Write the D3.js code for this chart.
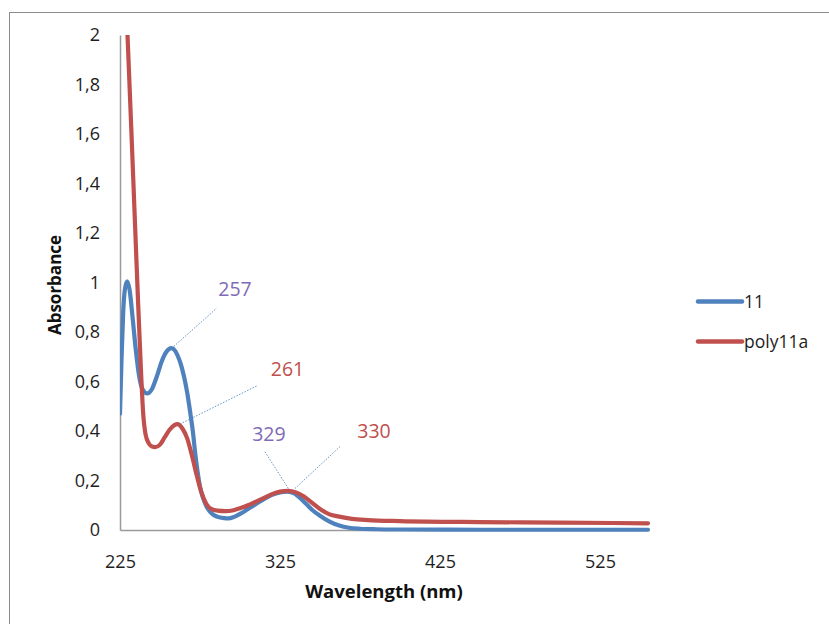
<!DOCTYPE html>
<html>
<head>
<meta charset="utf-8">
<script src="https://cdn.jsdelivr.net/npm/d3@7/dist/d3.min.js"></script>
<style>
  html, body { margin: 0; padding: 0; background: #fff; }
  svg { display: block; font-family: "Open Sans", Lato, sans-serif; }
</style>
</head>
<body>
<svg id="chart" width="829" height="624"></svg>
<script>
// ---- data ----
const seriesNames = ["11", "poly11a"];
const seriesColors = ["#4F81BD", "#C0504D"];

const wl11 = [225, 226, 227, 228, 229.5, 231, 233, 235, 237, 239, 242, 245, 248, 251, 254, 257, 259, 261, 263, 265, 267, 269, 270.5, 272, 273.5, 275, 277, 279, 281, 283, 286, 290, 293, 296, 300, 305, 310, 315, 320, 325, 329, 333, 337.5, 341, 345, 350, 356, 362, 368, 375, 385, 400, 450, 500, 555];
const abs11 = [0.47, 0.70, 0.88, 0.97, 1.005, 0.97, 0.85, 0.72, 0.62, 0.57, 0.552, 0.57, 0.62, 0.68, 0.72, 0.735, 0.728, 0.705, 0.67, 0.62, 0.555, 0.47, 0.40, 0.31, 0.235, 0.175, 0.128, 0.096, 0.076, 0.063, 0.053, 0.048, 0.047, 0.052, 0.065, 0.085, 0.105, 0.125, 0.142, 0.152, 0.155, 0.15, 0.13, 0.108, 0.082, 0.058, 0.034, 0.018, 0.009, 0.005, 0.003, 0.002, 0.001, 0.001, 0.001];

const wlPoly = [225, 228, 230, 232, 234, 236, 238, 239.5, 241, 243, 245, 247, 250, 253, 256, 259, 261, 264, 267, 270, 273, 276, 279, 282, 286, 291, 296, 300, 305, 310, 315, 320, 325, 330, 335, 340, 345, 350, 356, 362, 370, 380, 400, 450, 500, 555];
const absPoly = [2.75, 2.27, 1.95, 1.63, 1.30, 0.97, 0.66, 0.47, 0.385, 0.35, 0.337, 0.335, 0.345, 0.375, 0.405, 0.424, 0.428, 0.41, 0.37, 0.30, 0.22, 0.15, 0.105, 0.085, 0.078, 0.076, 0.08, 0.088, 0.1, 0.115, 0.13, 0.145, 0.155, 0.158, 0.152, 0.135, 0.11, 0.085, 0.063, 0.054, 0.045, 0.04, 0.036, 0.032, 0.03, 0.027];

const xTicks = [225, 325, 425, 525];
const yTicks = [0, 0.2, 0.4, 0.6, 0.8, 1, 1.2, 1.4, 1.6, 1.8, 2];

// peak annotations
const peakLabels = ["257", "261", "329", "330"];
const peakWl = [257.3, 262.5, 330.2, 334.4];
const peakAbs = [0.734, 0.428, 0.168, 0.168];
const labelColors = ["#7F6BB5", "#C0504D", "#7F6BB5", "#C0504D"];
const leaderEndWl = [285.4, 310.4, 315.6, 362.5];
const leaderEndAbs = [0.896, 0.582, 0.316, 0.337];
const labelWl = [296.9, 329.7, 318.1, 383.75];
const labelAbs = [0.945, 0.622, 0.361, 0.372];

// ---- layout ----
const svg = d3.select("#chart");
const plot = { left: 120, right: 648, top: 35, bottom: 530 };

const x = d3.scaleLinear().domain([225, 555]).range([plot.left, plot.right]);
const y = d3.scaleLinear().domain([0, 2]).range([plot.bottom, plot.top]);

// outer frame
svg.append("rect")
  .attr("x", 9.5).attr("y", 12.5)
  .attr("width", 840).attr("height", 640)
  .attr("fill", "none").attr("stroke", "#8c8c8c").attr("stroke-width", 1);

// clip
svg.append("defs").append("clipPath").attr("id", "plotclip")
  .append("rect")
  .attr("x", plot.left).attr("y", plot.top)
  .attr("width", plot.right - plot.left + 4).attr("height", plot.bottom - plot.top + 4);

// axes
const yAxis = d3.axisLeft(y).tickValues(yTicks).tickSize(0).tickPadding(20)
  .tickFormat(d => d3.format("~g")(d).replace(".", ","));
const gy = svg.append("g").attr("transform", `translate(${plot.left},0)`).call(yAxis);
gy.select(".domain").attr("stroke", "#9a9a9a").attr("stroke-width", 1.5);
gy.selectAll("text").attr("font-size", 18).attr("fill", "#1e1e1e").attr("font-family", "'Open Sans', sans-serif");

const xAxis = d3.axisBottom(x).tickValues(xTicks).tickSize(0).tickPadding(25)
  .tickFormat(d3.format("d"));
const gx = svg.append("g").attr("transform", `translate(0,${plot.bottom})`).call(xAxis);
gx.select(".domain").attr("stroke", "#9a9a9a").attr("stroke-width", 1.5);
gx.selectAll("text").attr("font-size", 18).attr("fill", "#1e1e1e").attr("font-family", "'Open Sans', sans-serif");

// axis titles
svg.append("text")
  .attr("x", 384).attr("y", 598)
  .attr("text-anchor", "middle").attr("font-weight", "bold").attr("font-size", 18.5)
  .attr("fill", "#111").text("Wavelength (nm)");
svg.append("text")
  .attr("transform", `translate(61,285) rotate(-90)`)
  .attr("text-anchor", "middle").attr("font-weight", "bold").attr("font-size", 17)
  .attr("fill", "#111").text("Absorbance");

// lines
const line = d3.line().x(d => x(d[0])).y(d => y(d[1])).curve(d3.curveMonotoneX);
const dataSets = [d3.zip(wl11, abs11), d3.zip(wlPoly, absPoly)];
const gLines = svg.append("g").attr("clip-path", "url(#plotclip)");
dataSets.forEach((ds, i) => {
  gLines.append("path").datum(ds)
    .attr("d", line)
    .attr("fill", "none")
    .attr("stroke", seriesColors[i])
    .attr("stroke-width", 4.2)
    .attr("stroke-linejoin", "round")
    .attr("stroke-linecap", "round");
});

// annotations
peakLabels.forEach((t, i) => {
  svg.append("line")
    .attr("x1", x(peakWl[i])).attr("y1", y(peakAbs[i]))
    .attr("x2", x(leaderEndWl[i])).attr("y2", y(leaderEndAbs[i]))
    .attr("stroke", "#4F81BD").attr("stroke-width", 1)
    .attr("stroke-dasharray", "1.5,1.5").attr("opacity", 0.85);
  svg.append("text")
    .attr("x", x(labelWl[i])).attr("y", y(labelAbs[i]))
    .attr("text-anchor", "middle").attr("font-size", 19.5)
    .attr("fill", labelColors[i]).text(t);
});

// legend
const legend = svg.append("g");
seriesNames.forEach((n, i) => {
  const ly = 301.5 + i * 40;
  legend.append("line")
    .attr("x1", 698).attr("x2", 742).attr("y1", ly).attr("y2", ly)
    .attr("stroke", seriesColors[i]).attr("stroke-width", 4.5).attr("stroke-linecap", "round");
  legend.append("text")
    .attr("x", 744).attr("y", ly + 6)
    .attr("font-size", 17.5).attr("fill", "#1e1e1e").text(n);
});
</script>
</body>
</html>
